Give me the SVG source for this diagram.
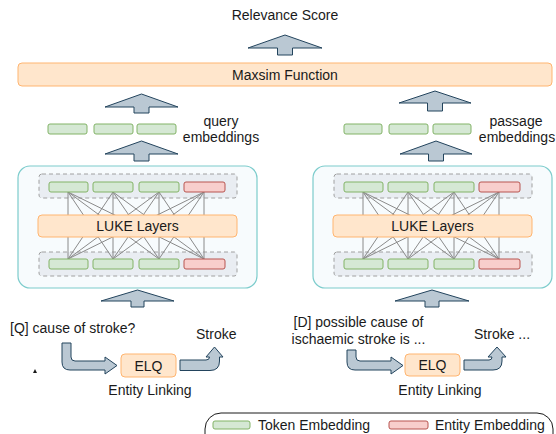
<svg xmlns="http://www.w3.org/2000/svg" width="556" height="434" viewBox="0 0 556 434">
  <style>
    text { font-family: "Liberation Sans", Arial, sans-serif; font-size: 14px; fill: #1a1a1a; }
    .mid { text-anchor: middle; }
    .tok { fill: #d5e8d4; stroke: #82b366; stroke-width: 1; }
    .ent { fill: #f8cecc; stroke: #b85450; stroke-width: 1; }
    .orange { fill: #ffe6cc; stroke: #ffb570; stroke-width: 1; }
    .encoder { fill: #f7fbfd; stroke: #7ccccc; stroke-width: 1.2; }
    .row { fill: #e9edf2; stroke: #a0a0a0; stroke-width: 1; stroke-dasharray: 4 3; }
    .flow { fill: #bac8d3; stroke: #23445d; stroke-width: 1; stroke-linejoin: miter; }
    .mesh line { stroke: #8a8a8a; stroke-width: 1; }
  </style>
  <defs>
    <!-- bipartite attention mesh between the two embedding rows -->
    <g id="mesh" class="mesh">
      <line x1="68" y1="192" x2="68" y2="259"/><line x1="68" y1="192" x2="113" y2="259"/>
      <line x1="68" y1="192" x2="159" y2="259"/><line x1="68" y1="192" x2="204" y2="259"/>
      <line x1="113" y1="192" x2="68" y2="259"/><line x1="113" y1="192" x2="113" y2="259"/>
      <line x1="113" y1="192" x2="159" y2="259"/><line x1="113" y1="192" x2="204" y2="259"/>
      <line x1="159" y1="192" x2="68" y2="259"/><line x1="159" y1="192" x2="113" y2="259"/>
      <line x1="159" y1="192" x2="159" y2="259"/><line x1="159" y1="192" x2="204" y2="259"/>
      <line x1="204" y1="192" x2="68" y2="259"/><line x1="204" y1="192" x2="113" y2="259"/>
      <line x1="204" y1="192" x2="159" y2="259"/><line x1="204" y1="192" x2="204" y2="259"/>
    </g>
    <!-- LUKE encoder block -->
    <g id="encoder">
      <rect class="encoder" x="18" y="166" width="239" height="122" rx="12"/>
      <rect class="row" x="39" y="174" width="198" height="24" rx="3"/>
      <rect class="row" x="39" y="252" width="198" height="24" rx="3"/>
      <use href="#mesh"/>
      <rect class="tok" x="49" y="182" width="39" height="10" rx="2"/>
      <rect class="tok" x="93" y="182" width="40" height="10" rx="2"/>
      <rect class="tok" x="139" y="182" width="40" height="10" rx="2"/>
      <rect class="ent" x="184" y="182" width="41" height="10" rx="2"/>
      <rect class="tok" x="49" y="259" width="39" height="10" rx="2"/>
      <rect class="tok" x="93" y="259" width="40" height="10" rx="2"/>
      <rect class="tok" x="139" y="259" width="40" height="10" rx="2"/>
      <rect class="ent" x="184" y="259" width="41" height="10" rx="2"/>
      <rect class="orange" x="38" y="215" width="199" height="22" rx="4"/>
      <text class="mid" x="137.5" y="231">LUKE Layers</text>
    </g>
  </defs>

  <!-- output -->
  <g id="relevance-score">
    <text class="mid" x="285" y="20">Relevance Score</text>
  </g>
  <g id="maxsim">
    <rect class="orange" x="18" y="63" width="534" height="23" rx="4"/>
    <text class="mid" x="285" y="80">Maxsim Function</text>
  </g>

  <!-- query side -->
  <g id="query-embeddings">
    <rect class="tok" x="48" y="124" width="39" height="10" rx="2"/>
    <rect class="tok" x="94" y="124" width="39" height="10" rx="2"/>
    <rect class="tok" x="137" y="124" width="39" height="10" rx="2"/>
    <text class="mid" x="221" y="126">query</text>
    <text class="mid" x="221" y="142">embeddings</text>
  </g>
  <g id="query-encoder">
    <use href="#encoder"/>
  </g>
  <g id="query-input">
    <text x="10" y="333">[Q] cause of stroke?</text>
  </g>
  <g id="query-elq">
    <rect class="orange" x="121" y="354" width="55" height="23" rx="4"/>
    <text class="mid" x="148.5" y="371">ELQ</text>
    <text class="mid" x="150" y="395">Entity Linking</text>
  </g>
  <g id="query-entity">
    <text x="196" y="339">Stroke</text>
  </g>

  <!-- passage side -->
  <g id="passage-embeddings">
    <rect class="tok" x="344" y="124" width="38" height="10" rx="2"/>
    <rect class="tok" x="389" y="124" width="39" height="10" rx="2"/>
    <rect class="tok" x="433" y="124" width="38" height="10" rx="2"/>
    <text class="mid" x="516" y="126">passage</text>
    <text class="mid" x="517" y="142">embeddings</text>
  </g>
  <g id="passage-encoder">
    <use href="#encoder" transform="translate(295 0)"/>
  </g>
  <g id="passage-input">
    <text class="mid" x="358.5" y="327">[D] possible cause of</text>
    <text class="mid" x="358.5" y="344">ischaemic stroke is ...</text>
  </g>
  <g id="passage-elq">
    <rect class="orange" x="405" y="354" width="55" height="22" rx="4"/>
    <text class="mid" x="432.5" y="370">ELQ</text>
    <text class="mid" x="440" y="395">Entity Linking</text>
  </g>
  <g id="passage-entity">
    <text x="474" y="339">Stroke ...</text>
  </g>

  <!-- legend -->
  <g id="legend">
    <rect x="205" y="413" width="348" height="44" rx="16" fill="#ffffff" stroke="#1a1a1a" stroke-width="1"/>
    <rect class="tok" x="213" y="421" width="37" height="8" rx="2"/>
    <text x="258" y="430">Token Embedding</text>
    <rect class="ent" x="389" y="421" width="39" height="8" rx="2"/>
    <text x="435" y="430">Entity Embedding</text>
  </g>

  <!-- stray marker -->
  <polygon points="35,369 37,373 33,373" fill="#1a1a1a"/>

  <!-- connectors -->
  <g id="connectors">
    <!-- maxsim to score -->
    <polygon class="flow" points="285,35 322,48 292.5,48 292.5,55 277.5,55 277.5,48 248,48"/>
    <!-- query embeddings to maxsim -->
    <polygon class="flow" points="141.5,94 178,107 149,107 149,113 134,113 134,107 105,107"/>
    <!-- query encoder to query embeddings -->
    <polygon class="flow" points="141.5,141 178,154 149,154 149,161 134,161 134,154 105,154"/>
    <!-- passage embeddings to maxsim -->
    <polygon class="flow" points="435,91 471,103 442.5,103 442.5,111 427.5,111 427.5,103 399,103"/>
    <!-- passage encoder to passage embeddings -->
    <polygon class="flow" points="436,141 472,154 443.5,154 443.5,161 428.5,161 428.5,154 400,154"/>
    <!-- query input to encoder -->
    <polygon class="flow" points="137.5,290 174,301 144,301 144,307 131,307 131,301 101,301"/>
    <!-- passage input to encoder -->
    <polygon class="flow" points="432,290 469,301 439,301 439,307 425,307 425,301 395,301"/>
    <!-- query text to ELQ -->
    <path class="flow" d="M62,343 L71,343 L71,357 Q71,361 75,361 L105,361 L105,357 L117,365.5 L105,374 L105,370 L70,370 Q62,370 62,362 Z"/>
    <!-- ELQ to query entity -->
    <path class="flow" d="M180,360 L206,360 Q209.5,360 209.5,357 L206,357 L214.5,347 L223,357 L219.5,357 L219.5,361 Q219.5,370.5 210,370.5 L180,370.5 Z"/>
    <!-- passage text to ELQ -->
    <path class="flow" d="M347,350 L356,350 L356,357 Q356,361 360,361 L391,361 L391,357 L403,365.5 L391,374 L391,370 L355,370 Q347,370 347,362 Z"/>
    <!-- ELQ to passage entity -->
    <path class="flow" d="M464,360 L489,360 Q492,360 492,357 L488,357 L497,347 L506,357 L502,357 L502,361 Q502,370 493,370 L464,370 Z"/>
  </g>
</svg>
